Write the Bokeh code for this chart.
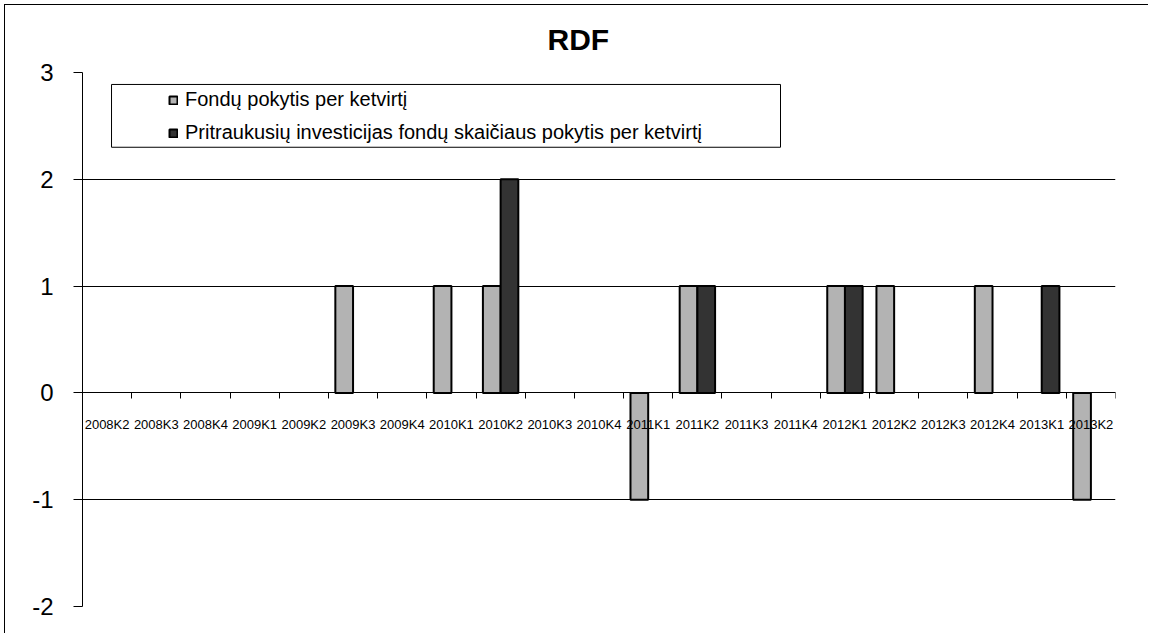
import math
from bokeh.plotting import figure
from bokeh.models import (Range1d, FixedTicker, LinearAxis, Legend, LegendItem,
                          BoxAnnotation, ColumnDataSource, Grid)
from bokeh.embed import file_html
from bokeh.resources import INLINE

# ---- data ----
categories = ["2008K2", "2008K3", "2008K4", "2009K1", "2009K2", "2009K3", "2009K4",
              "2010K1", "2010K2", "2010K3", "2010K4", "2011K1", "2011K2", "2011K3",
              "2011K4", "2012K1", "2012K2", "2012K3", "2012K4", "2013K1", "2013K2"]
fund_change = [0, 0, 0, 0, 0, 1, 0, 1, 1, 0, 0, -1, 1, 0, 0, 1, 1, 0, 1, 0, -1]
attracted_change = [0, 0, 0, 0, 0, 0, 0, 0, 2, 0, 0, 0, 1, 0, 0, 1, 0, 0, 0, 1, 0]
y_ticks = [-2, -1, 0, 1, 2, 3]
y_tick_labels = ["-2", "-1", "0", "1", "2", "3"]
series_names = ["Fondų pokytis per ketvirtį",
                "Pritraukusių investicijas fondų skaičiaus pokytis per ketvirtį"]
title_text = "RDF"

FONT = "Liberation Sans"
n = len(categories)
centers = [i + 0.5 for i in range(n)]
bounds = list(range(n + 1))
bar_w = 0.36

def src(values, offset):
    xs = [c + offset for c, v in zip(centers, values) if v != 0]
    ys = [v for v in values if v != 0]
    return ColumnDataSource(dict(x=xs, top=ys))

p = figure(width=1144, height=629, output_backend="svg", toolbar_location=None,
           x_range=Range1d(0, n), y_range=Range1d(min(y_ticks), max(y_ticks)),
           x_axis_location=None, y_axis_location=None,
           min_border_left=77, min_border_right=34, min_border_top=67, min_border_bottom=28,
           styles={"margin-left": "4px", "margin-top": "4px",
                   "border-left": "1px solid black", "border-top": "1px solid black"})
p.outline_line_color = None
p.background_fill_color = "white"
p.border_fill_color = "white"

p.title.text = title_text
p.title.text_font = FONT
p.title.text_font_size = "30px"
p.title.text_font_style = "bold"
p.title.text_color = "black"
p.title.align = "left"
p.title.offset = 465
p.title.vertical_align = "top"
p.title.standoff = 30

# y axis
yax = LinearAxis(ticker=FixedTicker(ticks=y_ticks))
yax.major_label_overrides = {t: lab for t, lab in zip(y_ticks, y_tick_labels)}
yax.major_label_text_font = FONT
yax.major_label_text_font_size = "24px"
yax.major_label_text_color = "black"
yax.major_tick_out = 9
yax.major_tick_in = 0
yax.minor_tick_line_color = None
yax.axis_line_color = "black"
yax.major_tick_line_color = "black"
yax.major_label_standoff = 20
p.add_layout(yax, "left")

# category axis crossing at zero; tick marks at category boundaries
xax = LinearAxis(ticker=FixedTicker(ticks=centers, minor_ticks=bounds), fixed_location=0)
xax.major_label_overrides = {c: lab for c, lab in zip(centers, categories)}
xax.major_label_orientation = "horizontal"
xax.major_label_text_font = FONT
xax.major_label_text_font_size = "13px"
xax.major_label_text_color = "black"
xax.major_label_standoff = 18
xax.major_tick_line_color = None
xax.minor_tick_line_color = "black"
xax.minor_tick_out = 6
xax.minor_tick_in = 0
xax.axis_line_color = "black"
p.add_layout(xax, "below")

p.xgrid.visible = False
p.ygrid.visible = False
p.add_layout(Grid(dimension=1, ticker=FixedTicker(ticks=y_ticks),
                  grid_line_color="black", grid_line_width=1))

r1 = p.vbar(x="x", top="top", bottom=0, width=bar_w, source=src(fund_change, -bar_w / 2),
            fill_color="#B3B3B3", line_color="black", line_width=2)
r2 = p.vbar(x="x", top="top", bottom=0, width=bar_w, source=src(attracted_change, bar_w / 2),
            fill_color="#333333", line_color="black", line_width=2)

# legend box
box = BoxAnnotation(left=0.59, right=14.19, top=2.888, bottom=2.30,
                    fill_color="white", fill_alpha=1, line_color="black",
                    line_alpha=1, line_width=1)
p.add_layout(box)

legend = Legend(items=[LegendItem(label=series_names[0], renderers=[r1]),
                       LegendItem(label=series_names[1], renderers=[r2])],
                location=(86, 462), orientation="vertical")
legend.border_line_color = None
legend.background_fill_alpha = 0
legend.padding = 0
legend.margin = 0
legend.spacing = 10
legend.glyph_width = 10
legend.glyph_height = 10
legend.label_height = 22
legend.label_standoff = 7
legend.label_text_font = FONT
legend.label_text_font_size = "20px"
legend.label_text_color = "black"
p.add_layout(legend)

open("out.html", "w").write(file_html(p, INLINE))
